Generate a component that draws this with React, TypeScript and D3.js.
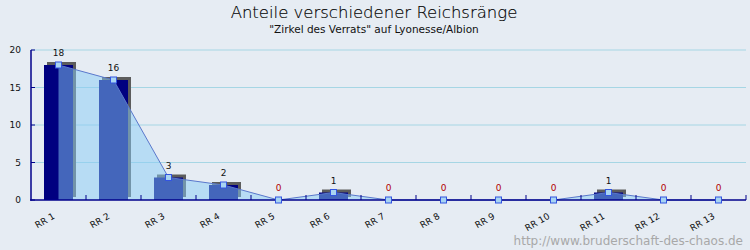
import React from "react";
import * as d3 from "d3";

const categories = ["RR 1", "RR 2", "RR 3", "RR 4", "RR 5", "RR 6", "RR 7", "RR 8", "RR 9", "RR 10", "RR 11", "RR 12", "RR 13"];
const values = [18, 16, 3, 2, 0, 1, 0, 0, 0, 0, 1, 0, 0];
const yTicks = [0, 5, 10, 15, 20];
const title = "Anteile verschiedener Reichsränge";
const subtitle = "\"Zirkel des Verrats\" auf Lyonesse/Albion";
const watermark = "http://www.bruderschaft-des-chaos.de";

const W = 750;
const H = 250;

export default function App() {
  const x = d3.scaleBand<string>().domain(categories).range([31, 746]).padding(0);
  const y = d3.scaleLinear().domain([0, 20]).range([200, 50]);
  const bw = x.bandwidth();
  const barW = 29;
  const cx = (c: string) => (x(c) as number) + bw / 2;

  const pts: [number, number][] = categories.map((c, i) => [cx(c), y(values[i])]);
  const line = d3.line<[number, number]>().x((d) => d[0]).y((d) => d[1]).curve(d3.curveLinear);
  const area = d3
    .area<[number, number]>()
    .x((d) => d[0])
    .y0(y(0))
    .y1((d) => d[1])
    .curve(d3.curveLinear);

  const font = "'DejaVu Sans', sans-serif";

  return (
    <svg width={W} height={H} style={{ position: "absolute", left: 0, top: 0, background: "#e6ecf3" }}>
      <rect x={0} y={0} width={W} height={H} fill="#e6ecf3" />
      <text x={374} y={18} textAnchor="middle" fontFamily={font} fontWeight={200} fontSize={16.5} fill="#000" stroke="#000" strokeWidth={0.15}>
        {title}
      </text>
      <text x={374} y={33} textAnchor="middle" fontFamily={font} fontWeight={400} fontSize={10.5} fill="#111">
        {subtitle}
      </text>
      {/* gridlines */}
      {yTicks.filter((t) => t > 0).map((t) => (
        <line key={"g" + t} x1={31} x2={746} y1={y(t)} y2={y(t)} stroke="#a6d6e4" strokeWidth={1} />
      ))}
      {/* bar shadows */}
      {categories.map((c, i) =>
        values[i] > 0 ? (
          <rect key={"s" + c} x={cx(c) - barW / 2 + 3} y={y(values[i]) - 3} width={barW} height={y(0) - y(values[i])} fill="#5c5c5c" />
        ) : null
      )}
      {/* bars */}
      {categories.map((c, i) =>
        values[i] > 0 ? (
          <rect key={"b" + c} x={cx(c) - barW / 2} y={y(values[i])} width={barW} height={y(0) - y(values[i])} fill="#000080" />
        ) : null
      )}
      {/* area */}
      <path d={area(pts) as string} fill="rgb(136,204,246)" fillOpacity={0.5} />
      <path d={line(pts) as string} fill="none" stroke="#5a78cc" strokeWidth={1} />
      {/* axes */}
      <line x1={31} x2={31} y1={50} y2={200.5} stroke="#00008b" strokeWidth={1.5} />
      <line x1={30} x2={746} y1={200} y2={200} stroke="#00008b" strokeWidth={1.5} />
      {yTicks.map((t) => (
        <g key={"yt" + t}>
          <line x1={31} x2={35} y1={y(t)} y2={y(t)} stroke="#00008b" strokeWidth={1} />
          <text x={21} y={y(t) + 3} textAnchor="end" fontFamily={font} fontSize={9} fill="#111">
            {t}
          </text>
        </g>
      ))}
      {categories.map((c) => (
        <line key={"xt" + c} x1={(x(c) as number) + bw} x2={(x(c) as number) + bw} y1={195} y2={200} stroke="#00008b" strokeWidth={1} />
      ))}
      {categories.map((c) => (
        <text
          key={"xl" + c}
          transform={`translate(${cx(c) - 3},${218}) rotate(-30)`}
          textAnchor="end"
          fontFamily={font}
          fontSize={9}
          fill="#111"
        >
          {c}
        </text>
      ))}
      {/* markers */}
      {pts.map((p, i) => (
        <rect key={"m" + i} x={p[0] - 3} y={p[1] - 3} width={6} height={6} fill="#a8d4f2" stroke="#3355e0" strokeWidth={1} />
      ))}
      {/* value labels */}
      {categories.map((c, i) => (
        <text
          key={"v" + c}
          x={cx(c)}
          y={y(values[i]) - 9}
          textAnchor="middle"
          fontFamily={font}
          fontSize={9}
          fill={values[i] === 0 ? "#b00000" : "#111"}
        >
          {values[i]}
        </text>
      ))}
      <text x={743} y={245} textAnchor="end" fontFamily={font} fontSize={12} fill="#a8a8a8">
        {watermark}
      </text>
    </svg>
  );
}
